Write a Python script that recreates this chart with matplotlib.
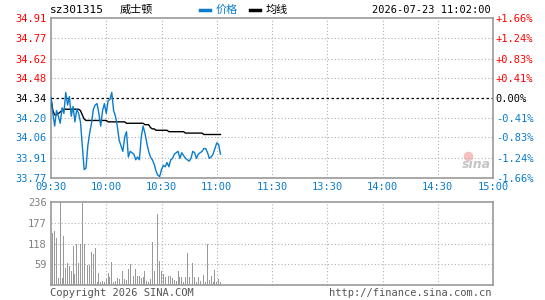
import numpy as np
import matplotlib
matplotlib.use('Agg')
import matplotlib.pyplot as plt

plt.rcParams['font.family'] = ['DejaVu Sans Mono', 'Noto Sans CJK SC']

## minute-by-minute data, 09:30 .. 11:02
price = [34.34, 34.23, 34.14, 34.25, 34.21, 34.16, 34.27, 34.23, 34.38, 34.29,
         34.35, 34.21, 34.28, 34.17, 34.26, 34.23, 34.17, 34.00, 33.83, 33.84,
         34.00, 34.09, 34.16, 34.26, 34.29, 34.30, 34.23, 34.14, 34.25, 34.30,
         34.23, 34.32, 34.33, 34.38, 34.25, 34.21, 34.14, 34.04, 34.00, 33.96,
         34.06, 34.10, 33.92, 33.96, 33.95, 33.94, 33.90, 33.92, 33.90, 34.06,
         34.14, 34.09, 34.02, 33.96, 33.92, 33.90, 33.87, 33.82, 33.79, 33.78,
         33.83, 33.86, 33.85, 33.88, 33.85, 33.90, 33.91, 33.94, 33.95, 33.96,
         33.91, 33.95, 33.93, 33.91, 33.90, 33.89, 33.91, 33.96, 33.95, 33.91,
         33.94, 33.95, 33.96, 33.98, 33.98, 33.95, 33.91, 33.92, 33.94, 33.98,
         34.02, 34.01, 33.94]
avg = [34.34, 34.25, 34.22, 34.22, 34.23, 34.24, 34.25, 34.26, 34.26, 34.26,
       34.26, 34.26, 34.26, 34.26, 34.26, 34.26, 34.25, 34.22, 34.19, 34.18,
       34.18, 34.18, 34.18, 34.18, 34.18, 34.18, 34.18, 34.18, 34.18, 34.18,
       34.18, 34.17, 34.17, 34.17, 34.17, 34.17, 34.17, 34.17, 34.17, 34.17,
       34.17, 34.16, 34.16, 34.16, 34.16, 34.16, 34.16, 34.16, 34.16, 34.16,
       34.16, 34.15, 34.15, 34.15, 34.13, 34.12, 34.12, 34.11, 34.11, 34.11,
       34.11, 34.11, 34.11, 34.11, 34.10, 34.10, 34.10, 34.10, 34.10, 34.10,
       34.10, 34.10, 34.10, 34.09, 34.09, 34.09, 34.09, 34.09, 34.09, 34.09,
       34.09, 34.09, 34.09, 34.08, 34.08, 34.08, 34.08, 34.08, 34.08, 34.08,
       34.08, 34.08, 34.08]
volume = [74, 148, 153, 134, 22, 236, 22, 139, 49, 62,
          55, 40, 111, 32, 118, 64, 118, 232, 118, 118,
          56, 57, 94, 87, 104, 9, 36, 10, 12, 9,
          17, 36, 23, 66, 9, 12, 22, 19, 29, 39,
          19, 15, 45, 60, 19, 25, 47, 26, 27, 21,
          23, 41, 13, 10, 17, 122, 41, 18, 201, 69,
          39, 32, 23, 15, 26, 26, 22, 15, 13, 40,
          23, 23, 8, 23, 92, 23, 8, 64, 24, 8,
          24, 13, 8, 28, 8, 118, 15, 26, 8, 43,
          8, 17, 8]

prev_close = 34.34
price_ticks = [34.91, 34.77, 34.62, 34.48, 34.34, 34.20, 34.06, 33.91, 33.77]
pct_labels = ['+1.66%', '+1.24%', '+0.83%', '+0.41%', '0.00%',
              '-0.41%', '-0.83%', '-1.24%', '-1.66%']
vol_ticks = [59, 118, 177, 236]
time_labels = ['09:30', '10:00', '10:30', '11:00', '11:30',
               '13:30', '14:00', '14:30', '15:00']

RED = '#ff0000'
BLUE = '#0a7ccc'
GRAY = '#999999'
GRID = '#b0b0b0'

fig = plt.figure(figsize=(5.45, 3.0), dpi=100)
ax = fig.add_axes([51/545, 1-178/300, 442/545, 160/300])
axv = fig.add_axes([51/545, 1-285.3/300, 442/545, 83.6/300])

minutes = np.arange(len(price))
xt = np.arange(0, 241, 30)

# main panel
ax.plot(minutes, avg, color='black', lw=1.0, zorder=3)
ax.plot(minutes, price, color=BLUE, lw=1.0, zorder=4)
ax.axhline(prev_close, color='black', ls=(0, (2, 2)), lw=0.9, zorder=2)
ax.set_xlim(0, 240)
ax.set_ylim(price_ticks[-1], price_ticks[0])
ax.set_yticks(price_ticks)
ax.set_xticks(xt)
ax.tick_params(length=0, labelsize=7.5, pad=3)
ax.set_yticklabels(['%.2f' % t for t in price_ticks])
for i, lab in enumerate(ax.get_yticklabels()):
    lab.set_color(RED if i < 4 else ('black' if i == 4 else BLUE))
ax.set_xticklabels(time_labels, color=BLUE)
for t in price_ticks[1:-1]:
    if t != prev_close:
        ax.axhline(t, color=GRID, ls=(0, (1, 2)), lw=0.8, zorder=1)
for t in xt[1:-1]:
    ax.axvline(t, color=GRID, ls=(0, (1, 2)), lw=0.8, zorder=1)
for s in ax.spines.values():
    s.set_color(GRAY)
    s.set_linewidth(1.2)

ax2 = ax.twinx()
ax2.set_ylim(price_ticks[-1], price_ticks[0])
ax2.set_yticks(price_ticks)
ax2.set_yticklabels(pct_labels)
ax2.tick_params(length=0, labelsize=7.5, pad=2)
for i, lab in enumerate(ax2.get_yticklabels()):
    lab.set_color(RED if i < 4 else ('black' if i == 4 else BLUE))
for s in ax2.spines.values():
    s.set_visible(False)

# sina watermark
ax.text(0.995, 0.045, 'sina', transform=ax.transAxes, ha='right', va='bottom',
        fontsize=9, fontstyle='italic', fontweight='bold', color='#c4c4c4',
        family='DejaVu Sans', zorder=0)
ax.scatter([0.943], [0.135], transform=ax.transAxes, s=35, color='#f5c0c0', zorder=0)

# volume panel
axv.bar(minutes, volume, width=0.5, color=GRAY, zorder=3)
axv.set_xlim(0, 240)
axv.set_ylim(0, vol_ticks[-1])
axv.set_yticks(vol_ticks)
axv.set_yticklabels([str(v) for v in vol_ticks], color='#808080')
axv.set_xticks([])
axv.tick_params(length=0, labelsize=7.5, pad=3)
for t in vol_ticks[:-1]:
    axv.axhline(t, color=GRID, ls=(0, (1, 2)), lw=0.8, zorder=1)
for t in xt[1:-1]:
    axv.axvline(t, color=GRID, ls=(0, (1, 2)), lw=0.8, zorder=1)
for s in axv.spines.values():
    s.set_color(GRAY)
    s.set_linewidth(1.2)

# header
fig.text(50/545, 1-10/300, 'sz301315', fontsize=8, va='center', ha='left')
fig.text(120/545, 1-10/300, '威士顿', fontsize=8, va='center', ha='left',
         family=['Noto Sans CJK SC', 'DejaVu Sans'])
fig.lines.append(plt.Line2D([200/545, 210/545], [1-10/300, 1-10/300],
                            color=BLUE, lw=2.5, transform=fig.transFigure))
fig.text(216/545, 1-10/300, '价格', fontsize=8, va='center', ha='left', color=BLUE,
         family=['Noto Sans CJK SC', 'DejaVu Sans'])
fig.lines.append(plt.Line2D([250/545, 260/545], [1-10/300, 1-10/300],
                            color='black', lw=2.5, transform=fig.transFigure))
fig.text(266/545, 1-10/300, '均线', fontsize=8, va='center', ha='left',
         family=['Noto Sans CJK SC', 'DejaVu Sans'])
fig.text(491/545, 1-10/300, '2026-07-23 11:02:00', fontsize=7.5, va='center', ha='right')

# footer
fig.text(50/545, 1-293/300, 'Copyright 2026 SINA.COM', fontsize=7.5, va='center',
         ha='left', color='#555555')
fig.text(492/545, 1-293/300, 'http://finance.sina.com.cn', fontsize=7.5, va='center',
         ha='right', color='#555555')

fig.savefig('out.png', dpi=100, facecolor='white')
